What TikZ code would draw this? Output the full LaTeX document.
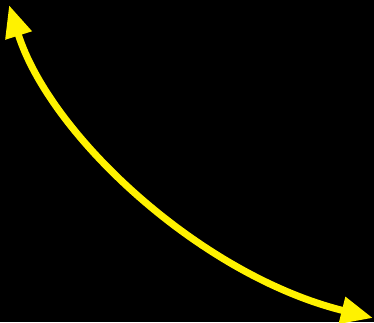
\documentclass[tikz,border=0pt]{standalone}
\usetikzlibrary{arrows.meta}
\begin{document}
\begin{tikzpicture}[x=1pt,y=-1pt,
        bend arrow/.style = {
            draw = yellow,
            line width = 7pt,
            {Triangle[length=32pt,width=26pt]}-{Triangle[length=32pt,width=26pt]}
        }]
            \fill[black] (0,0) rectangle (374,322);
            \useasboundingbox (0,0) rectangle (374,322);
            \coordinate (tipA) at (9,5);
            \coordinate (tipB) at (373,318);
            \draw[bend arrow] (tipA) .. controls (50,135) and (200,275) .. (tipB);
        \end{tikzpicture}
\end{document}
